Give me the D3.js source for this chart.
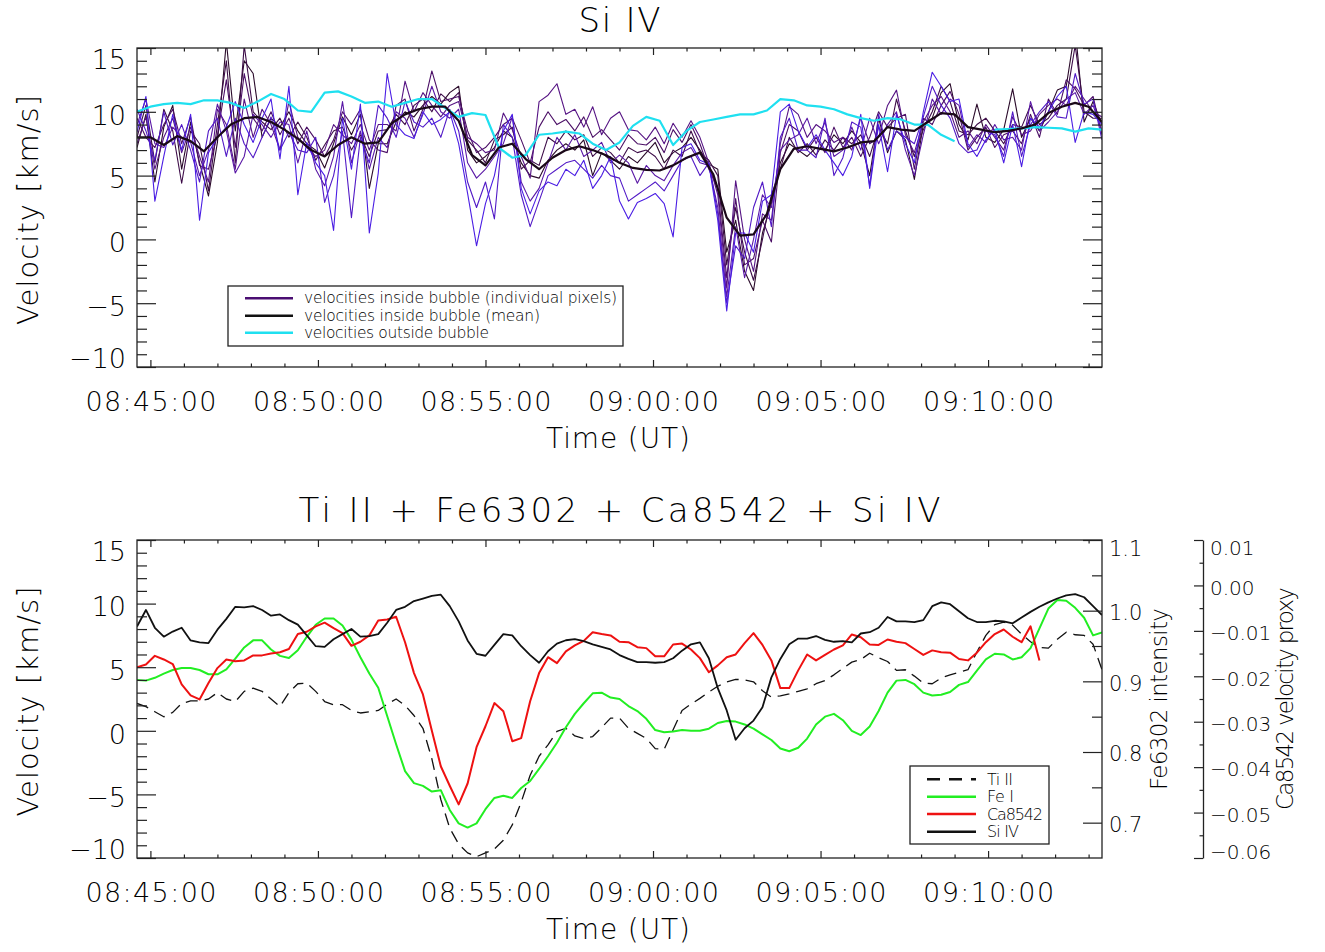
<!DOCTYPE html>
<html><head><meta charset="utf-8">
<script src="https://cdn.jsdelivr.net/npm/d3@7"></script>
<style>
body{margin:0;background:#fff}
svg{display:block}
text{font-family:"DejaVu Sans ExtraLight","DejaVu Sans",sans-serif;font-weight:200;fill:#000}
</style>
</head><body>
<svg id="chart" width="1325" height="952"></svg>
<script>
// ---------------- DATA ----------------
// time axis: seconds relative to 08:45:00 UT
const timeStart = -24;   // 08:44:36
const timeEnd = 1704;    // 09:13:24
const pixelCadence = 16; // s, Si IV pixels + bottom panel curves
const meanCadence = 24;  // s, Si IV mean / outside curves

const xTickValues = [0, 300, 600, 900, 1200, 1500];
const xTickLabels = ["08:45:00","08:50:00","08:55:00","09:00:00","09:05:00","09:10:00"];
const velTickValues = [-10, -5, 0, 5, 10, 15];
const velTickLabels = ["\u221210","\u22125","0","5","10","15"];
const feTickValues = [0.7, 0.8, 0.9, 1.0, 1.1];
const feTickLabels = ["0.7","0.8","0.9","1.0","1.1"];
const caTickValues = [-0.06,-0.05,-0.04,-0.03,-0.02,-0.01,0.00,0.01];
const caTickLabels = ["\u22120.06","\u22120.05","\u22120.04","\u22120.03","\u22120.02","\u22120.01","0.00","0.01"];

// Si IV velocities of individual pixels inside the bubble (km/s), one row per time step, 7 pixels
const siPixelRows = [
[7.2,8.0,9.5,7.5,9.0,10.2,8.4],[9.8,10.5,8.0,9.6,11.0,8.5,11.2],[4.5,6.0,7.2,5.5,7.5,6.2,3.0],
[8.8,10.2,9.0,8.0,7.2,10.0,6.5],[10.5,8.5,10.2,9.5,8.8,7.4,9.8],[5.5,4.4,7.5,6.8,8.0,9.0,7.0],
[9.2,8.5,9.6,8.8,7.6,7.0,9.8],[6.0,7.5,5.8,6.5,5.0,4.5,1.5],[3.4,3.8,5.5,4.5,7.0,8.5,6.8],
[7.6,9.0,8.2,10.2,10.6,9.5,8.0],[15.5,14.0,12.5,9.0,8.5,6.5,8.8],[8.5,6.0,7.2,5.5,5.2,9.5,10.8],
[14.0,15.2,13.0,11.0,6.5,7.5,9.0],[13.0,10.0,9.5,8.0,9.8,6.4,7.6],[8.0,9.2,8.5,10.2,9.0,8.0,9.5],
[9.5,8.6,10.0,9.0,8.0,9.6,11.0],[8.8,9.5,8.2,7.0,9.2,7.0,6.3],[10.0,8.0,9.5,10.8,9.0,8.4,12.0],
[8.5,9.2,7.5,8.0,6.0,7.0,3.5],[7.5,8.0,8.8,7.2,8.5,6.8,7.6],[7.0,6.2,7.8,6.5,5.5,8.0,6.0],
[5.6,7.4,6.5,7.0,4.2,2.9,5.0],[7.5,8.5,7.8,9.0,6.5,5.0,0.7],[9.6,8.8,10.0,8.2,10.8,8.5,9.5],
[8.2,7.0,9.0,7.5,6.0,1.7,5.5],[9.8,8.2,10.2,9.0,8.5,8.0,10.6],[4.0,6.5,7.8,7.0,5.5,6.0,0.5],
[7.5,8.5,7.0,9.0,8.0,10.5,5.2],[7.5,8.6,6.8,9.0,7.2,9.5,13.0],[9.2,9.8,10.5,8.5,10.0,8.0,9.0],
[10.0,9.0,11.0,12.4,9.5,10.8,8.2],[9.6,10.5,8.5,10.0,8.0,9.2,7.9],[10.5,11.0,10.2,11.5,9.8,8.8,10.0],
[11.2,10.0,13.2,10.5,12.0,9.5,9.0],[10.6,11.4,10.8,9.6,10.0,8.0,9.4],[11.5,10.8,11.0,10.5,9.5,10.2,10.0],
[12.0,11.5,11.2,10.8,10.2,8.5,7.5],[7.0,7.8,8.5,8.0,6.0,4.5,3.6],[6.0,7.0,6.8,7.5,4.8,2.5,-0.5],
[6.5,6.0,7.2,6.8,5.5,4.5,2.8],[7.2,7.8,8.0,7.0,6.5,1.6,5.0],[8.5,8.2,9.0,9.9,7.5,9.0,8.5],
[8.0,8.8,9.5,8.6,9.6,8.0,9.8],[6.0,5.5,7.8,6.5,4.5,3.5,4.0],[5.0,6.2,6.0,4.8,3.0,1.0,2.0],
[4.8,5.8,8.8,10.8,4.0,3.0,3.8],[6.2,8.0,10.0,11.3,6.0,5.0,4.5],[7.0,7.5,9.0,12.2,8.0,5.5,4.2],
[7.5,8.5,9.4,9.8,7.0,6.0,5.5],[7.0,7.8,8.5,10.2,8.2,6.2,5.0],[7.8,8.2,9.6,8.8,6.5,5.5,6.2],
[5.0,6.5,8.0,10.4,7.0,4.8,4.0],[6.8,7.2,8.6,8.2,7.6,5.8,5.0],[6.2,6.8,7.8,9.5,6.0,5.0,6.5],
[5.5,6.0,7.0,10.0,6.6,4.8,3.0],[6.5,7.2,8.2,8.6,6.0,3.0,1.6],[6.0,6.8,7.5,8.5,4.4,3.5,2.9],
[6.8,7.0,7.4,7.8,5.8,4.0,3.2],[7.6,6.5,8.0,8.8,5.0,4.5,3.6],[6.0,5.5,6.8,7.5,4.6,3.8,2.8],
[6.8,7.0,8.6,9.1,5.8,5.0,0.2],[7.2,6.5,7.6,8.0,6.8,6.2,7.2],[8.0,8.5,9.0,9.3,7.2,6.5,7.5],
[7.0,6.8,7.5,8.0,6.0,5.0,6.2],[5.9,6.2,5.5,6.0,5.8,6.0,5.9],[5.5,5.0,4.0,3.5,2.5,2.0,1.5],
[-1.0,-2.0,-3.0,-3.8,-4.5,-5.0,-5.6],[1.5,2.5,3.2,4.6,1.0,-0.5,0.5],[-2.5,-1.0,-2.0,0.0,-3.0,-1.5,0.5],
[-4.0,-3.2,-1.5,-2.5,0.0,2.5,-1.0],[0.5,0.0,1.5,2.0,3.5,4.5,3.0],[2.8,3.5,-0.2,1.5,2.5,1.0,3.5],
[6.0,5.5,6.8,7.5,7.0,8.0,10.0],[7.5,8.0,9.0,10.4,7.8,9.5,10.6],[7.0,6.8,8.5,9.8,8.2,7.0,8.5],
[6.5,7.5,7.0,8.0,9.5,7.0,7.2],[7.2,6.6,8.0,9.0,7.5,6.4,8.2],[7.0,7.8,6.8,8.5,9.2,9.5,7.0],
[8.2,7.0,8.8,7.6,6.5,5.0,6.0],[7.5,8.0,7.2,8.0,7.0,6.4,5.0],[8.5,7.5,8.0,7.0,8.8,9.2,6.5],
[7.6,8.2,6.5,9.5,7.0,8.8,9.8],[5.0,6.5,8.0,7.5,9.5,4.2,4.0],[9.5,8.8,10.0,8.0,7.5,9.8,9.0],
[6.8,7.5,8.8,10.5,9.0,7.0,5.3],[8.5,11.0,9.5,11.7,10.0,8.5,9.8],[7.8,8.5,9.8,8.2,7.0,8.0,7.5],
[4.7,6.5,5.5,6.8,5.0,7.5,6.0],[9.0,8.6,9.5,9.2,8.2,9.6,10.0],[9.5,10.0,9.0,10.5,11.0,12.0,13.1],
[11.5,12.0,10.5,11.2,9.8,10.5,12.0],[12.2,10.8,11.6,10.0,11.0,9.5,10.8],[9.0,8.5,9.8,8.0,10.5,7.5,11.0],
[7.8,8.2,7.0,8.5,7.2,6.8,7.5],[10.6,9.0,8.0,7.5,8.2,7.0,6.5],[8.0,9.5,8.8,9.0,7.6,8.5,7.8],
[7.6,8.5,7.2,8.0,9.0,8.2,8.6],[8.6,7.5,8.2,7.0,7.8,6.5,6.0],[11.8,9.0,8.5,9.6,8.0,10.0,9.0],
[8.0,8.8,7.5,8.2,7.0,6.5,5.7],[9.5,10.5,9.8,8.5,10.8,9.0,9.5],[8.5,9.0,8.0,9.8,8.5,10.0,8.8],
[10.0,9.5,11.0,10.5,9.2,10.8,10.0],[11.7,10.5,9.8,11.0,10.0,9.6,11.2],[12.0,11.0,12.5,10.5,11.0,9.5,12.0],
[16.5,15.2,11.8,12.0,11.5,13.0,7.6],[9.2,10.0,10.5,11.0,9.8,10.6,10.0],[10.8,9.5,11.2,10.0,10.5,11.0,9.8],
[9.0,9.5,8.2,9.6,8.5,7.8,9.0]
];

// Si IV mean velocity inside bubble (km/s), 24 s steps
const siMean = [
8.0,8.0,7.4,8.1,7.7,6.9,8.0,9.0,9.5,9.6,
9.2,8.6,7.9,7.0,6.5,7.4,8.0,7.5,7.6,9.1,
9.8,10.2,10.4,10.4,9.3,6.6,5.8,7.2,7.5,6.3,
5.5,6.4,7.0,7.3,7.0,6.6,6.0,5.6,5.45,5.4,
5.8,6.4,6.8,5.1,1.7,0.3,0.4,2.0,5.5,7.1,
7.3,7.1,6.9,7.2,7.6,7.7,8.8,8.6,8.5,9.2,
9.9,9.8,8.8,8.6,8.4,8.5,8.7,9.0,9.9,10.4,
10.7,10.4,9.2
];

// Si IV velocity outside bubble (km/s), 24 s steps (null = no data)
const siOutside = [
10.0,10.4,10.6,10.7,10.6,10.9,10.9,10.7,10.3,10.8,
11.4,11.0,10.1,10.0,11.5,11.6,11.2,10.7,10.8,10.4,
10.7,11.0,11.0,10.3,9.6,9.9,9.75,7.2,6.4,6.6,
8.2,8.3,8.45,8.3,7.5,7.0,7.6,8.9,9.6,9.3,
7.4,8.5,9.2,9.4,9.6,9.8,9.8,10.1,11.0,10.9,
10.5,10.4,10.2,9.8,9.5,9.3,9.5,9.4,9.0,9.0,
8.2,7.7,null,null,8.6,8.65,8.7,8.8,8.75,8.7,
8.45,8.7,8.6
];

// Bottom panel, 16 s steps
const tiII = [ // km/s
2.15,1.9,1.5,1.1,1.45,2.15,2.35,2.35,2.5,3.0,
2.5,2.3,3.1,3.35,3.1,2.5,1.9,3.0,3.7,3.75,
3.1,2.3,2.05,2.05,1.6,1.4,1.5,1.6,2.1,2.5,
2.0,1.2,0.2,-2.2,-5.4,-7.65,-8.9,-9.6,-9.9,-9.6,
-9.3,-8.6,-7.4,-5.6,-3.5,-2.0,-1.1,-0.05,0.2,-0.4,
-0.6,-0.45,0.25,1.0,1.0,0.2,-0.2,-0.6,-1.4,-1.45,
0.08,1.6,2.1,2.55,3.05,3.5,3.85,4.05,4.0,3.85,
3.15,2.65,2.75,2.9,3.1,3.3,3.7,3.95,4.4,4.9,
5.4,5.6,6.1,5.75,5.45,4.75,4.8,4.3,3.75,3.7,
4.15,4.4,4.6,4.8,6.2,7.5,8.35,8.55,8.3,7.6,
7.0,6.55,6.5,7.2,7.75,7.55,7.5,6.8,4.8
];
const feI = [ // Fe6302 intensity
0.902,0.901,0.905,0.911,0.916,0.919,0.919,0.916,0.910,0.910,
0.917,0.932,0.948,0.958,0.958,0.945,0.936,0.933,0.944,0.963,
0.980,0.989,0.989,0.979,0.959,0.934,0.911,0.891,0.851,0.811,
0.773,0.756,0.752,0.744,0.746,0.718,0.699,0.693,0.699,0.719,
0.735,0.738,0.735,0.749,0.759,0.776,0.794,0.813,0.835,0.854,
0.869,0.883,0.884,0.877,0.875,0.865,0.858,0.847,0.831,0.828,
0.829,0.831,0.830,0.830,0.833,0.841,0.844,0.843,0.839,0.833,
0.825,0.817,0.805,0.801,0.806,0.819,0.839,0.850,0.854,0.845,
0.830,0.824,0.836,0.858,0.884,0.901,0.902,0.896,0.884,0.880,
0.881,0.885,0.895,0.899,0.915,0.931,0.939,0.938,0.931,0.934,
0.947,0.975,1.003,1.015,1.014,1.004,0.990,0.965,0.969
];
const ca8542 = [ // Ca8542 velocity proxy
-0.0180,-0.0174,-0.0155,-0.0163,-0.0173,-0.0218,-0.0242,-0.0251,-0.0215,-0.0182,
-0.0163,-0.0167,-0.0165,-0.0154,-0.0154,-0.0150,-0.0147,-0.0140,-0.0107,-0.0102,
-0.0090,-0.0082,-0.0094,-0.0105,-0.0133,-0.0124,-0.0110,-0.0077,-0.0075,-0.0069,
-0.0125,-0.0193,-0.0240,-0.0320,-0.0398,-0.0441,-0.0482,-0.0436,-0.0356,-0.0310,
-0.0259,-0.0277,-0.0343,-0.0336,-0.0255,-0.0193,-0.0158,-0.0171,-0.0145,-0.0132,
-0.0122,-0.0103,-0.0107,-0.0110,-0.0124,-0.0125,-0.0136,-0.0138,-0.0156,-0.0156,
-0.0130,-0.0128,-0.0141,-0.0160,-0.0191,-0.0176,-0.0158,-0.0152,-0.0127,-0.0105,
-0.0131,-0.0165,-0.0226,-0.0226,-0.0187,-0.0152,-0.0165,-0.0153,-0.0141,-0.0132,
-0.0108,-0.0114,-0.0130,-0.0131,-0.0119,-0.0124,-0.0127,-0.0140,-0.0153,-0.0143,
-0.0147,-0.0148,-0.0162,-0.0165,-0.0148,-0.0125,-0.0107,-0.0097,-0.0113,-0.0125,
-0.0090,-0.0165,null,null,null,null,null,null,null
];
const siIV = [ // km/s
8.2,9.5,8.1,7.4,7.8,8.1,7.1,6.95,6.9,7.95,
8.8,9.75,9.7,9.8,9.5,9.05,9.15,8.7,8.35,7.5,
6.65,6.6,7.2,7.6,8.0,7.4,7.45,7.6,8.5,9.5,
9.75,10.2,10.4,10.6,10.7,9.8,8.6,7.1,6.05,5.9,
6.75,7.6,7.5,6.65,5.95,5.35,6.25,6.85,7.12,7.2,
7.05,6.8,6.6,6.4,5.95,5.65,5.4,5.4,5.35,5.4,
5.7,6.3,6.8,6.95,5.7,3.35,1.6,-0.7,0.2,0.8,
1.85,4.2,5.65,6.8,7.25,7.25,7.45,7.15,7.0,7.05,
6.95,7.65,7.75,8.1,8.95,8.6,8.6,8.55,8.7,9.8,
10.1,9.95,9.4,8.85,8.55,8.55,8.65,8.6,8.45,8.9,
9.35,9.75,10.1,10.4,10.65,10.75,10.5,9.8,9.1
];

const topLegend = ["velocities inside bubble (individual pixels)","velocities inside bubble (mean)","velocities outside bubble"];
const bottomLegend = ["Ti II","Fe I","Ca8542","Si IV"];

// ---------------- LAYOUT / STYLE ----------------
const L = 137, R = 1102;
const P1 = {top: 48, bottom: 367};
const P2 = {top: 540, bottom: 858};
const CA_X = 1203;
const frameColor = "#222";
const pixelColors = ["#2a0a2a","#3d0c48","#4b0f66","#561484","#5a18a6","#5119c6","#4a1de4"];
const cyan = "#1fe0f0", green = "#22ee22", red = "#ee1111", black = "#111";

const svg = d3.select("#chart");
const x = d3.scaleLinear().domain([timeStart, timeEnd]).range([L, R]);
const y1 = d3.scaleLinear().domain([-10, 15]).range([P1.bottom, P1.top]);
const y2 = d3.scaleLinear().domain([-10, 15]).range([P2.bottom, P2.top]);
const yFe = d3.scaleLinear().domain([0.65, 1.1]).range([P2.bottom, P2.top]);
const yCa = d3.scaleLinear().domain([-0.06, 0.01]).range([P2.bottom, P2.top]);

const pixTimes = d3.range(siPixelRows.length).map(i => timeStart + i * pixelCadence);
const meanTimes = d3.range(siMean.length).map(i => timeStart + i * meanCadence);
const clamp = (v, a, b) => Math.max(a, Math.min(b, v));

const defs = svg.append("defs");
[["clip1", P1], ["clip2", P2]].forEach(([id, P]) => {
  defs.append("clipPath").attr("id", id).append("rect")
    .attr("x", L).attr("y", P.top).attr("width", R - L).attr("height", P.bottom - P.top);
});

function lineGen(ys) {
  return d3.line().defined(d => d[1] !== null && !isNaN(d[1]))
    .x(d => x(d[0])).y(d => ys(d[1]));
}
function draw(g, times, vals, ys, color, width, dash) {
  g.append("path")
    .datum(times.map((t, i) => [t, vals[i]]))
    .attr("fill", "none").attr("stroke", color).attr("stroke-width", width)
    .attr("stroke-linejoin", "round")
    .attr("stroke-dasharray", dash || null)
    .attr("d", lineGen(ys));
}
function styleAxis(g) {
  g.attr("font-family", null).attr("font-size", null).attr("color", frameColor);
  g.select(".domain").remove();
  g.selectAll("line").attr("stroke-width", 1.2);
}

function frameAndAxes(P, yVel, withRightVel) {
  const xMinor = d3.range(60, 1704, 60).filter(v => v % 300 !== 0);
  const gb1 = svg.append("g").attr("transform", `translate(0,${P.bottom})`)
    .call(d3.axisBottom(x).tickValues(xMinor).tickSize(-3.5).tickFormat(""));
  styleAxis(gb1);
  const gb = svg.append("g").attr("transform", `translate(0,${P.bottom})`)
    .call(d3.axisBottom(x).tickValues(xTickValues).tickSize(-7)
      .tickFormat((d, i) => xTickLabels[i]));
  styleAxis(gb);
  gb.selectAll("text").attr("y", 43.5).attr("dy", null)
    .style("font-size", "27px").attr("textLength", 131).attr("lengthAdjust", "spacing");
  const gt1 = svg.append("g").attr("transform", `translate(0,${P.top})`)
    .call(d3.axisTop(x).tickValues(xMinor).tickSize(-3.5).tickFormat(""));
  styleAxis(gt1);
  const gt = svg.append("g").attr("transform", `translate(0,${P.top})`)
    .call(d3.axisTop(x).tickValues(xTickValues).tickSize(-7).tickFormat(""));
  styleAxis(gt);
  const vMinor = d3.range(-9, 15, 1).filter(v => v % 5 !== 0);
  const gl1 = svg.append("g").attr("transform", `translate(${L},0)`)
    .call(d3.axisLeft(yVel).tickValues(vMinor).tickSize(-10).tickFormat(""));
  styleAxis(gl1);
  const gl = svg.append("g").attr("transform", `translate(${L},0)`)
    .call(d3.axisLeft(yVel).tickValues(velTickValues).tickSize(-19).tickPadding(11)
      .tickFormat((d, i) => velTickLabels[i]));
  styleAxis(gl);
  gl.selectAll("text").attr("dy", null).style("font-size", "27px")
    .attr("y", d => clamp(yVel(d) + 2.5, P.top + 11, P.bottom - 9) - yVel(d) + 9.8);
  if (withRightVel) {
    const gr1 = svg.append("g").attr("transform", `translate(${R},0)`)
      .call(d3.axisRight(yVel).tickValues(vMinor).tickSize(-10).tickFormat(""));
    styleAxis(gr1);
    const gr = svg.append("g").attr("transform", `translate(${R},0)`)
      .call(d3.axisRight(yVel).tickValues(velTickValues).tickSize(-19).tickFormat(""));
    styleAxis(gr);
  }
  svg.append("rect").attr("x", L).attr("y", P.top).attr("width", R - L).attr("height", P.bottom - P.top)
    .attr("fill", "none").attr("stroke", frameColor).attr("stroke-width", 1.3);
  svg.append("text").attr("x", 618).attr("y", P.bottom + 81).attr("text-anchor", "middle")
    .style("font-size", "28px").attr("textLength", 144).attr("lengthAdjust", "spacing").text("Time (UT)");
  svg.append("text").attr("transform", `translate(38,${(P.top + P.bottom) / 2 + 2.5}) rotate(-90)`)
    .attr("text-anchor", "middle").style("font-size", "29px")
    .attr("textLength", 230).attr("lengthAdjust", "spacing").text("Velocity [km/s]");
}

// ---------------- TOP PANEL ----------------
svg.append("text").attr("x", 619.5).attr("y", 31.5).attr("text-anchor", "middle")
  .style("font-size", "34px").attr("textLength", 82).attr("lengthAdjust", "spacing").text("Si IV");

const g1 = svg.append("g").attr("clip-path", "url(#clip1)");
const pixelSeries = d3.transpose(siPixelRows);
pixelSeries.forEach((vals, i) => draw(g1, pixTimes, vals, y1, pixelColors[i], 1.1));
draw(g1, meanTimes, siOutside, y1, cyan, 2.2);
draw(g1, meanTimes, siMean, y1, "#1a0818", 2.2);
frameAndAxes(P1, y1, true);

const lg1 = svg.append("g");
lg1.append("rect").attr("x", 228).attr("y", 286).attr("width", 395).attr("height", 60)
  .attr("fill", "#fff").attr("stroke", frameColor).attr("stroke-width", 1.3);
const tlColors = ["#4a0e72", "#111", cyan];
const tlLens = [313, 236, 185];
[298.3, 315.7, 332.7].forEach((yy, i) => {
  lg1.append("line").attr("x1", 245).attr("x2", 293).attr("y1", yy).attr("y2", yy)
    .attr("stroke", tlColors[i]).attr("stroke-width", 2.6);
  lg1.append("text").attr("x", 304).attr("y", yy + 5).style("font-size", "15.5px")
    .attr("textLength", tlLens[i]).attr("lengthAdjust", "spacing").text(topLegend[i]);
});

// ---------------- BOTTOM PANEL ----------------
svg.append("text").attr("x", 619.5).attr("y", 522).attr("text-anchor", "middle")
  .style("font-size", "34px").attr("textLength", 642).attr("lengthAdjust", "spacing")
  .text("Ti II + Fe6302 + Ca8542 + Si IV");

const g2 = svg.append("g").attr("clip-path", "url(#clip2)");
draw(g2, pixTimes, tiII, y2, black, 1.3, "12,7");
draw(g2, pixTimes, feI, yFe, green, 2);
draw(g2, pixTimes, ca8542, yCa, red, 2);
draw(g2, pixTimes, siIV, y2, black, 1.8);
frameAndAxes(P2, y2, false);

const feMinor = [0.75, 0.85, 0.95, 1.05];
const gf1 = svg.append("g").attr("transform", `translate(${R},0)`)
  .call(d3.axisRight(yFe).tickValues(feMinor).tickSize(-10).tickFormat(""));
styleAxis(gf1);
const gf = svg.append("g").attr("transform", `translate(${R},0)`)
  .call(d3.axisRight(yFe).tickValues(feTickValues).tickSize(-19).tickPadding(7)
    .tickFormat((d, i) => feTickLabels[i]));
styleAxis(gf);
gf.selectAll("text").attr("dy", null).style("font-size", "21px")
  .attr("y", d => clamp(yFe(d) + 1.2, P2.top + 7.5, P2.bottom - 7.5) - yFe(d) + 7.6);
svg.append("text").attr("transform", `translate(1166.5,699) rotate(-90)`)
  .attr("text-anchor", "middle").style("font-size", "23px")
  .attr("textLength", 182).attr("lengthAdjust", "spacing").text("Fe6302 intensity");

const caMinor = [-0.055,-0.045,-0.035,-0.025,-0.015,-0.005,0.005];
const gc1 = svg.append("g").attr("transform", `translate(${CA_X},0)`)
  .call(d3.axisRight(yCa).tickValues(caMinor).tickSize(-3.5).tickFormat(""));
styleAxis(gc1);
const gc = svg.append("g").attr("transform", `translate(${CA_X},0)`)
  .call(d3.axisRight(yCa).tickValues(caTickValues).tickSize(-9).tickSizeOuter(0).tickPadding(7)
    .tickFormat((d, i) => caTickLabels[i]));
gc.attr("font-family", null).attr("font-size", null).attr("color", frameColor);
gc.selectAll("line").attr("stroke-width", 1.2);
gc.select(".domain").attr("stroke-width", 1.3);
gc.selectAll("text").attr("dy", null).style("font-size", "20px")
  .attr("y", d => clamp(yCa(d) + 1.5, P2.top + 7.5, P2.bottom - 6.5) - yCa(d) + 7.3);
svg.append("text").attr("transform", `translate(1293,698.5) rotate(-90)`)
  .attr("text-anchor", "middle").style("font-size", "23px")
  .attr("textLength", 223).attr("lengthAdjust", "spacing").text("Ca8542 velocity proxy");

const lg2 = svg.append("g");
lg2.append("rect").attr("x", 910).attr("y", 766).attr("width", 139).attr("height", 78)
  .attr("fill", "#fff").attr("stroke", frameColor).attr("stroke-width", 1.3);
const blColors = [black, green, red, black];
const blDash = ["13,9", null, null, null];
const blLens = [26, 27, 56, 32];
[779.3, 796.7, 814, 831.7].forEach((yy, i) => {
  lg2.append("line").attr("x1", 927).attr("x2", 976).attr("y1", yy).attr("y2", yy)
    .attr("stroke", blColors[i]).attr("stroke-width", 2.6).attr("stroke-dasharray", blDash[i]);
  lg2.append("text").attr("x", 987).attr("y", yy + 5.5).style("font-size", "16px")
    .attr("textLength", blLens[i]).attr("lengthAdjust", "spacing").text(bottomLegend[i]);
});
</script>
</body></html>
